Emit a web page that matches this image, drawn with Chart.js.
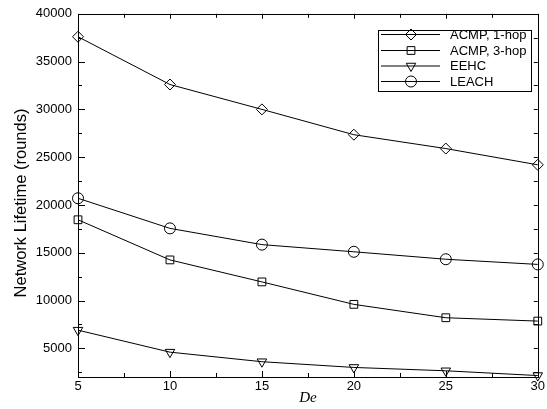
<!DOCTYPE html>
<html>
<head>
<meta charset="utf-8">
<script src="https://cdn.jsdelivr.net/npm/chart.js@4.4.1/dist/chart.umd.min.js"></script>
<style>
    html, body { margin: 0; padding: 0; background: #fff; }
    #wrap { width: 547px; height: 409px; }
</style>
</head>
<body>
<div id="wrap"><canvas id="chart" width="547" height="409"></canvas></div>
<script>
"use strict";

const deValues = [5, 10, 15, 20, 25, 30];
const acmp1Hop = [37600, 32600, 30000, 27350, 25900, 24200];
const acmp3Hop = [18450, 14250, 11950, 9600, 8200, 7850];
const eehc = [6900, 4600, 3600, 3000, 2650, 2150];
const leach = [20700, 17550, 15850, 15100, 14320, 13780];

const xTicks = [5, 10, 15, 20, 25, 30];
const yTicks = [5000, 10000, 15000, 20000, 25000, 30000, 35000, 40000];
const xMinorStep = 2.5;
const yMinorStep = 2500;

const kFont = "'Liberation Sans', Arial, Helvetica, sans-serif";

function toPoints(values) {
    return deValues.map((x, i) => ({ x, y: values[i] }));
}

function makeDataset(label, values, pointStyle, rotation = 0) {
    return {
        label,
        data: toPoints(values),
        borderColor: "#000",
        borderWidth: 1,
        pointStyle,
        pointRotation: rotation,
        pointRadius: 5.5,
        pointBorderWidth: 1,
        pointBorderColor: "#000",
        pointBackgroundColor: "rgba(0,0,0,0)",
        tension: 0,
        clip: false
    };
}

const datasets = [
    makeDataset("ACMP, 1-hop", acmp1Hop, "rectRot"),
    makeDataset("ACMP, 3-hop", acmp3Hop, "rect"),
    makeDataset("EEHC", eehc, "triangle", 180),
    makeDataset("LEACH", leach, "circle")
];

function drawMarker(ctx, ds, x, y) {
    ctx.save();
    ctx.strokeStyle = "#000";
    ctx.fillStyle = "rgba(0,0,0,0)";
    ctx.lineWidth = 1;
    Chart.helpers.drawPoint(ctx, {
        pointStyle: ds.pointStyle,
        rotation: ds.pointRotation,
        radius: ds.pointRadius,
        borderWidth: 1
    }, x, y);
    ctx.restore();
}

const frameAndExtras = {
    id: "frameAndExtras",
    afterDatasetsDraw(chart) {
        const { ctx, chartArea: area } = chart;
        const xs = chart.scales.x;
        const ys = chart.scales.y;
        ctx.save();
        ctx.strokeStyle = "#000";
        ctx.lineWidth = 1;

        // frame
        ctx.strokeRect(Math.round(area.left) + 0.5, Math.round(area.top) + 0.5,
            Math.round(area.right - area.left), Math.round(area.bottom - area.top));

        // x ticks (bottom + top), pointing inward
        ctx.beginPath();
        for (let v = xs.min; v <= xs.max + 1e-9; v += xMinorStep) {
            const major = xTicks.includes(v);
            const px = Math.round(xs.getPixelForValue(v)) + 0.5;
            ctx.moveTo(px, area.bottom);
            ctx.lineTo(px, area.bottom - (major ? 6 : 4));
            ctx.moveTo(px, area.top);
            ctx.lineTo(px, area.top + (major ? 5 : 4));
        }
        // y ticks (left + right)
        for (let v = yMinorStep; v <= ys.max + 1e-9; v += yMinorStep) {
            if (v < ys.min) continue;
            const major = yTicks.includes(v);
            const py = Math.round(ys.getPixelForValue(v)) + 0.5;
            ctx.moveTo(area.left, py);
            ctx.lineTo(area.left + (major ? 7 : 4), py);
            ctx.moveTo(area.right, py);
            ctx.lineTo(area.right - 4, py);
        }
        ctx.stroke();

        // legend
        const box = { left: 378.5, top: 30.5, width: 153, height: 61 };
        ctx.strokeRect(box.left, box.top, box.width, box.height);
        const rowY = [34.5, 50.5, 66, 81.5];
        ctx.font = `13px ${kFont}`;
        ctx.fillStyle = "#000";
        ctx.textBaseline = "middle";
        ctx.textAlign = "left";
        chart.data.datasets.forEach((ds, i) => {
            const y = rowY[i];
            ctx.beginPath();
            ctx.moveTo(381, y);
            ctx.lineTo(440, y);
            ctx.stroke();
            drawMarker(ctx, ds, 411, y);
            ctx.fillText(ds.label, 450, y + 0.5);
        });

        // axis titles
        ctx.save();
        ctx.translate(21, 203);
        ctx.rotate(-Math.PI / 2);
        ctx.textAlign = "center";
        ctx.font = `16.5px ${kFont}`;
        ctx.fillText("Network Lifetime (rounds)", 0, 0);
        ctx.restore();

        ctx.textAlign = "center";
        ctx.font = "italic 15px 'Liberation Serif', 'Times New Roman', serif";
        ctx.fillText("De", (area.left + area.right) / 2, 398);

        ctx.restore();
    }
};

document.addEventListener("DOMContentLoaded", () => {
    new Chart(document.getElementById("chart").getContext("2d"), {
        type: "line",
        data: { datasets },
        options: {
            responsive: false,
            animation: false,
            devicePixelRatio: 1,
            layout: { padding: { left: 0, right: 8, top: 12, bottom: 0 } },
            plugins: {
                legend: { display: false },
                tooltip: { enabled: false }
            },
            scales: {
                x: {
                    type: "linear",
                    min: 5,
                    max: 30,
                    grid: { display: false, drawTicks: false },
                    border: { display: false },
                    afterBuildTicks: (scale) => {
                        scale.ticks = xTicks.map((value) => ({ value }));
                    },
                    afterFit: (scale) => {
                        scale.height = 32;
                    },
                    ticks: {
                        padding: 2,
                        maxRotation: 0,
                        color: "#000",
                        font: { family: kFont, size: 13 },
                        callback: (value) => String(value)
                    }
                },
                y: {
                    min: 2000,
                    max: 40000,
                    grid: { display: false, drawTicks: false },
                    border: { display: false },
                    afterBuildTicks: (scale) => {
                        scale.ticks = yTicks.map((value) => ({ value }));
                    },
                    afterFit: (scale) => {
                        scale.width = 78;
                    },
                    ticks: {
                        padding: 6,
                        color: "#000",
                        font: { family: kFont, size: 13 },
                        callback: (value) => String(value)
                    }
                }
            }
        },
        plugins: [frameAndExtras]
    });
});
</script>
</body>
</html>
